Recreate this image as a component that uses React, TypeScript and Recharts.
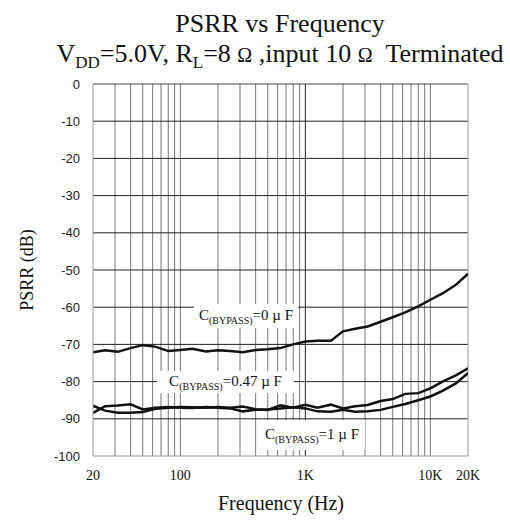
import { LineChart, Line, XAxis, YAxis, ReferenceLine } from "recharts";

const freqs = [20, 25, 31.5, 40, 50, 63, 80, 100, 125, 160, 200, 250, 315, 400, 500, 630, 800, 1000, 1250, 1600, 2000, 2500, 3150, 4000, 5000, 6300, 8000, 10000, 12500, 16000, 20000];

// C(BYPASS)=0uF
const bypass0 = [-72.1, -71.6, -72.0, -71.0, -70.2, -70.6, -71.8, -71.5, -71.2, -71.9, -71.6, -71.8, -72.1, -71.5, -71.3, -71.0, -70.0, -69.2, -69.0, -69.0, -66.5, -65.8, -65.2, -63.9, -62.7, -61.4, -59.8, -58.0, -56.3, -54.0, -51.0];
// C(BYPASS)=0.47uF
const bypass047 = [-86.5, -87.8, -88.4, -88.4, -88.2, -87.3, -87.0, -86.8, -86.9, -87.0, -86.8, -87.0, -86.7, -87.4, -87.6, -86.4, -87.0, -86.2, -87.0, -86.2, -87.2, -86.6, -86.3, -85.2, -84.7, -83.3, -83.1, -81.8, -80.0, -78.3, -76.4];
// C(BYPASS)=1uF
const bypass1 = [-88.4, -86.6, -86.4, -86.1, -87.5, -87.0, -86.8, -87.0, -87.1, -86.8, -87.0, -87.2, -88.0, -87.6, -87.5, -87.2, -86.9, -87.2, -88.0, -88.1, -87.6, -88.1, -88.0, -87.6, -86.8, -86.0, -85.0, -84.0, -82.5, -80.5, -77.7];

const xTicks = [20, 100, 1000, 10000, 20000];
const yTicks = [0, -10, -20, -30, -40, -50, -60, -70, -80, -90, -100];
const gridFreqs = [30, 40, 50, 60, 70, 80, 90, 100, 200, 300, 400, 500, 600, 700, 800, 900, 1000, 2000, 3000, 4000, 5000, 6000, 7000, 8000, 9000, 10000];
const gridDb = [-10, -20, -30, -40, -50, -60, -70, -80, -90];

const data = freqs.map((f, i) => ({ f, c0: bypass0[i], c047: bypass047[i], c1: bypass1[i] }));

const fmtHz = (v: number) => (v >= 1000 ? `${v / 1000}K` : `${v}`);

const serif = "'Liberation Serif', 'Times New Roman', serif";

function CapLabel({ value, left, top, width, height }: { value: string; left: number; top: number; width: number; height: number }) {
  return (
    <div
      style={{
        position: "absolute",
        left,
        top,
        width,
        height,
        background: "#fff",
        fontFamily: serif,
        fontSize: 15,
        whiteSpace: "nowrap",
        display: "flex",
        alignItems: "center",
        justifyContent: "center",
        color: "#111",
      }}
    >
      <span>
        C<sub style={{ fontSize: 10 }}>(BYPASS)</sub>={value} µ F
      </span>
    </div>
  );
}

export default function App() {
  return (
    <div style={{ position: "absolute", left: 0, top: 0, width: 510, height: 520, background: "#fff" }}>
      <LineChart width={510} height={520} data={data} margin={{ top: 84, right: 42, bottom: 34, left: 53 }}>
        {gridFreqs.map((g) => (
          <ReferenceLine key={"v" + g} x={g} stroke={g === 1000 ? "#222" : "#777"} strokeWidth={1} />
        ))}
        {gridDb.map((g) => (
          <ReferenceLine key={"h" + g} y={g} stroke="#222" strokeWidth={1} />
        ))}
        <ReferenceLine y={0} stroke="#444" />
        <ReferenceLine x={20000} stroke="#999" />
        <XAxis
          dataKey="f"
          type="number"
          scale="log"
          domain={[20, 20000]}
          ticks={xTicks}
          tickFormatter={fmtHz}
          allowDataOverflow
          tickLine={false}
          tickSize={0}
          tickMargin={14}
          axisLine={{ stroke: "#999" }}
          tick={{ fill: "#111", fontSize: 14, fontFamily: serif }}
          interval={0}
        />
        <YAxis
          type="number"
          domain={[-100, 0]}
          ticks={yTicks}
          width={40}
          tickLine={false}
          tickSize={0}
          tickMargin={13}
          axisLine={{ stroke: "#999" }}
          tick={{ fill: "#222", fontSize: 13, fontFamily: "'Liberation Sans', Arial, sans-serif" }}
          interval={0}
        />
        <Line type="linear" dataKey="c0" stroke="#111" strokeWidth={2.5} dot={false} isAnimationActive={false} />
        <Line type="linear" dataKey="c047" stroke="#111" strokeWidth={2.5} dot={false} isAnimationActive={false} />
        <Line type="linear" dataKey="c1" stroke="#111" strokeWidth={2.5} dot={false} isAnimationActive={false} />
      </LineChart>

      <div style={{ position: "absolute", left: 0, width: 560, top: 9, textAlign: "center", fontFamily: serif, fontSize: 26, lineHeight: "30px", color: "#111", whiteSpace: "nowrap" }}>
        PSRR vs Frequency
      </div>
      <div style={{ position: "absolute", left: 0, width: 560, top: 39, textAlign: "center", fontFamily: serif, fontSize: 26, lineHeight: "30px", color: "#111", whiteSpace: "nowrap" }}>
        V<sub style={{ fontSize: 17, lineHeight: 0 }}>DD</sub>=5.0V, R<sub style={{ fontSize: 17, lineHeight: 0 }}>L</sub>=8 <span style={{ fontSize: 20 }}>Ω</span> ,input 10 <span style={{ fontSize: 20 }}>Ω</span>&nbsp; Terminated
      </div>

      <CapLabel value="0" left={194} top={304} width={104} height={24} />
      <CapLabel value="0.47" left={157} top={371} width={137} height={22} />
      <CapLabel value="1" left={259} top={420} width={106} height={30} />

      <div style={{ position: "absolute", left: 0, width: 562, top: 491, textAlign: "center", fontFamily: serif, fontSize: 20, lineHeight: "24px", color: "#111" }}>
        Frequency (Hz)
      </div>
      <div
        style={{
          position: "absolute",
          left: 27 - 60,
          top: 270 - 11,
          width: 120,
          height: 22,
          lineHeight: "22px",
          textAlign: "center",
          transform: "rotate(-90deg)",
          fontFamily: serif,
          fontSize: 18,
          color: "#111",
          whiteSpace: "nowrap",
        }}
      >
        PSRR (dB)
      </div>
    </div>
  );
}
